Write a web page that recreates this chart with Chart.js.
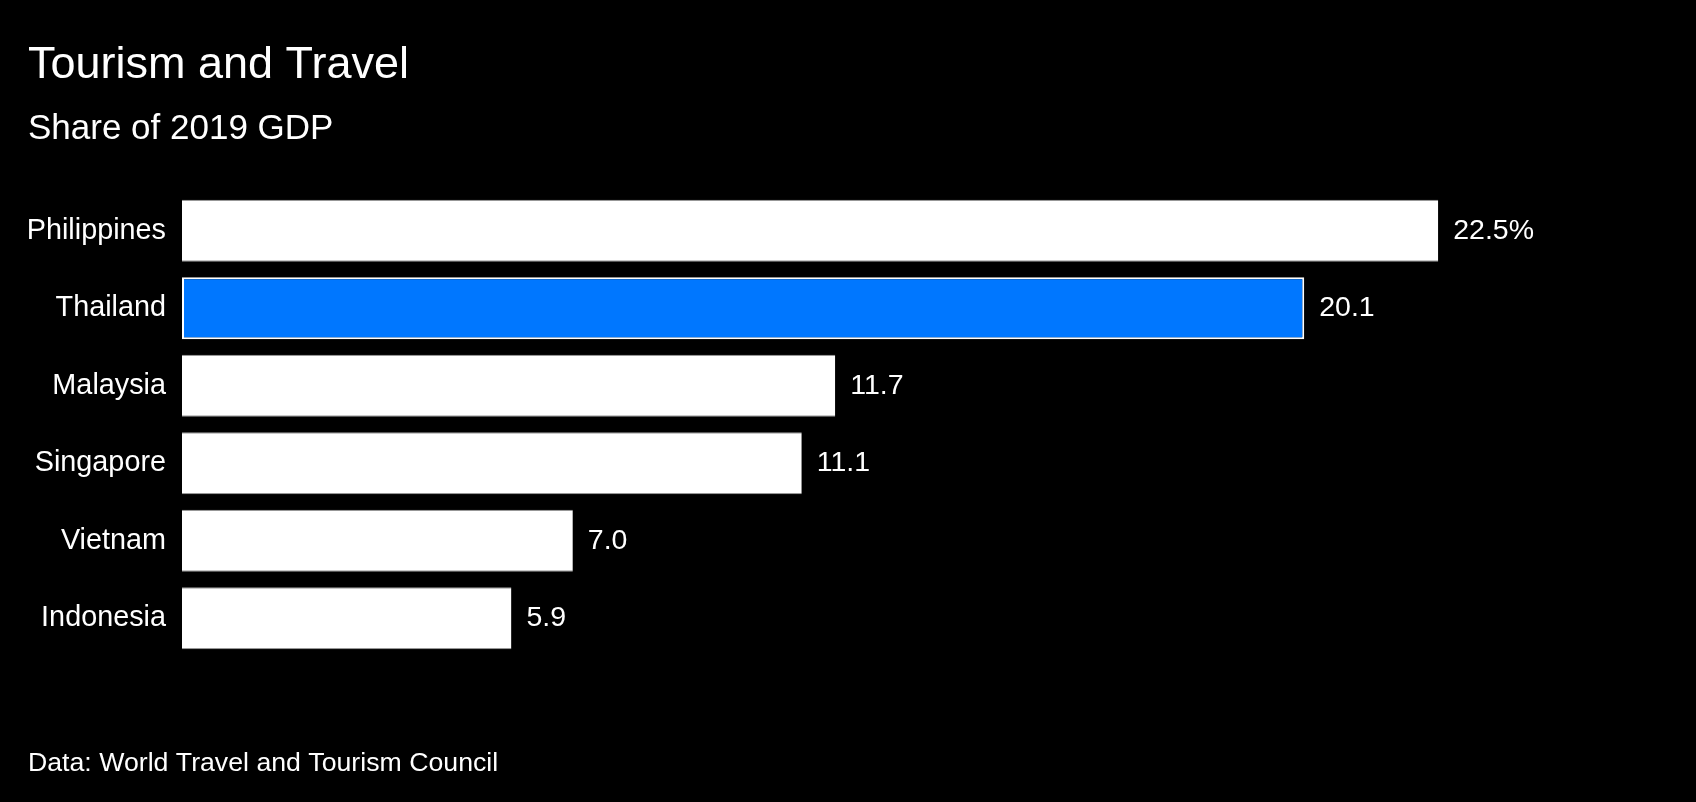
<!DOCTYPE html>
<html>
<head>
<meta charset="utf-8">
<script src="https://cdn.jsdelivr.net/npm/chart.js@4/dist/chart.umd.min.js"></script>
<style>
  html, body { margin: 0; padding: 0; background: #000; }
  #wrap { position: relative; width: 1696px; height: 802px; }
  canvas { display: block; }
</style>
</head>
<body>
<div id="wrap"><canvas id="c" width="1696" height="802"></canvas></div>
<script>
const titleText = "Tourism and Travel";
const subtitleText = "Share of 2019 GDP";
const footerText = "Data: World Travel and Tourism Council";
const categories = ["Philippines", "Thailand", "Malaysia", "Singapore", "Vietnam", "Indonesia"];
const shareValues = [22.5, 20.1, 11.7, 11.1, 7.0, 5.9];
const valueLabels = ["22.5%", "20.1", "11.7", "11.1", "7.0", "5.9"];
const highlighted = "Thailand";

const FONT = "'Liberation Sans', Arial, Helvetica, sans-serif";

const textPlugin = {
  id: 'texts',
  afterDraw(chart) {
    const ctx = chart.ctx;
    ctx.save();
    ctx.fillStyle = '#fff';
    ctx.textAlign = 'left';
    ctx.textBaseline = 'alphabetic';
    ctx.font = '45px ' + FONT;
    ctx.fillText(titleText, 28, 78);
    ctx.font = '35px ' + FONT;
    ctx.fillText(subtitleText, 28, 139);
    ctx.font = '26.7px ' + FONT;
    ctx.fillText(footerText, 28, 771);
    // value labels
    const meta = chart.getDatasetMeta(0);
    ctx.font = '28.5px ' + FONT;
    ctx.textBaseline = 'middle';
    meta.data.forEach((bar, i) => {
      ctx.fillText(valueLabels[i], bar.x + 15, bar.y);
    });
    ctx.restore();
  }
};

new Chart(document.getElementById('c'), {
  type: 'bar',
  data: {
    labels: categories,
    datasets: [{
      data: shareValues,
      backgroundColor: categories.map(c => c === highlighted ? '#0077FF' : '#FFFFFF'),
      borderColor: categories.map(c => c === highlighted ? '#FFFFFF' : '#9a9a9a'),
      borderWidth: categories.map(c => c === highlighted ? 2 : {top: 1, bottom: 1, left: 0, right: 0}),
      borderSkipped: false,
      categoryPercentage: 1.0,
      barPercentage: 0.8
    }]
  },
  options: {
    indexAxis: 'y',
    responsive: false,
    animation: false,
    devicePixelRatio: 1,
    layout: { padding: { top: 192, bottom: 145, left: 0, right: 174 } },
    plugins: { legend: { display: false }, tooltip: { enabled: false }, title: { display: false } },
    scales: {
      x: { display: false, min: 0, max: 24 },
      y: {
        afterFit(scale) { scale.width = 182; },
        grid: { display: false, drawTicks: false },
        border: { display: false },
        ticks: { color: '#fff', padding: 16, font: { family: FONT, size: 28.8 } }
      }
    }
  },
  plugins: [textPlugin]
});
</script>
</body>
</html>
